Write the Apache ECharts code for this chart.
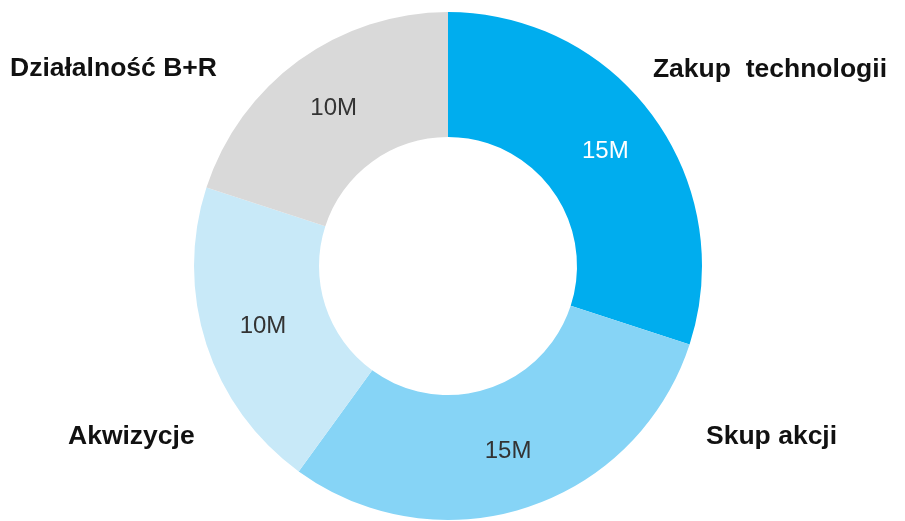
<!DOCTYPE html>
<html><head><meta charset="utf-8">
<script src="https://cdn.jsdelivr.net/npm/echarts@6/dist/echarts.min.js"></script>
<style>html,body{margin:0;padding:0;background:#fff}#c{width:905px;height:521px}</style>
</head><body><div id="c"></div>
<script>
const categories = ["Zakup  technologii", "Skup akcji", "Akwizycje", "Działalność B+R"];
const values = [15, 15, 10, 10];
const valueLabels = ["15M", "15M", "10M", "10M"];
const colors = ["#00adee", "#86d4f6", "#c8e9f8", "#d9d9d9"];
const labelColors = ["#ffffff", "#333333", "#333333", "#333333"];
const namePos = [
  {x: 887, y: 70, align: 'right'},
  {x: 706, y: 437, align: 'left'},
  {x: 68, y: 437, align: 'left'},
  {x: 10, y: 69, align: 'left'}
];
const chart = echarts.init(document.getElementById('c'));
chart.setOption({
  animation: false,
  series: [{
    type: 'pie',
    center: [448, 266],
    radius: [129, 254],
    startAngle: 90,
    clockwise: true,
    silent: true,
    label: {position: 'inside', fontSize: 24, fontFamily: 'Liberation Sans, Arial, sans-serif'},
    labelLine: {show: false},
    data: categories.map((c, i) => ({
      name: c, value: values[i],
      itemStyle: {color: colors[i]},
      label: {formatter: valueLabels[i], color: labelColors[i]}
    }))
  }],
  graphic: categories.map((c, i) => ({
    type: 'text',
    x: namePos[i].x, y: namePos[i].y,
    style: {text: c, fontSize: 26.5, fontWeight: 'bold', fill: '#111',
            align: namePos[i].align, verticalAlign: 'middle',
            fontFamily: 'Liberation Sans, Arial, sans-serif'}
  }))
});
</script></body></html>
